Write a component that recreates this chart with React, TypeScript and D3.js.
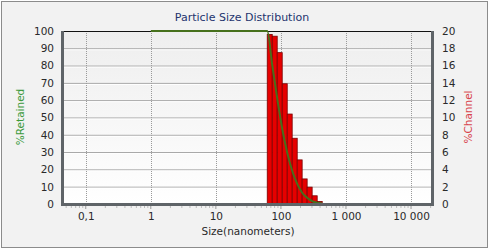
import React, { useEffect, useRef } from "react";
import * as d3 from "d3";

// channel bins (nm) and % per channel
const binEdges = [61.6, 73.5, 87.7, 104.7, 125, 149, 178, 212, 253, 302, 361, 431];
const channelPct = [19.6, 19.4, 17.5, 13.9, 10.4, 7.6, 5.1, 2.9, 1.95, 0.95, 0.3];

// cumulative % retained curve
const retainedSize = [1, 61.6, 73.5, 87.7, 104.7, 125, 149, 178, 212, 253, 302, 361, 431];
const retainedPct = [100, 100, 80.4, 61, 43.5, 29.6, 19.2, 11.6, 6.5, 3.6, 1.65, 0.7, 0.3];

const xTicks = [0.1, 1, 10, 100, 1000, 10000];
const xTickLabels = ["0,1", "1", "10", "100", "1 000", "10 000"];
const leftTicks = [0, 10, 20, 30, 40, 50, 60, 70, 80, 90, 100];
const rightTicks = [0, 2, 4, 6, 8, 10, 12, 14, 16, 18, 20];

const W = 489;
const H = 249;
const margin = { top: 31, right: 57, bottom: 45, left: 63 };
const font = "DejaVu Sans, Verdana, sans-serif";

export default function App() {
    const ref = useRef(null);

    useEffect(() => {
        const svg = d3.select(ref.current);
        svg.selectAll("*").remove();

        const iw = W - margin.left - margin.right;
        const ih = H - margin.top - margin.bottom;

        const x = d3.scaleLog().domain([0.0447, 21000]).range([0, iw]);
        const yL = d3.scaleLinear().domain([0, 100]).range([ih, 0]);
        const yR = d3.scaleLinear().domain([0, 20]).range([ih, 0]);

        const defs = svg.append("defs");
        const grad = defs.append("linearGradient")
            .attr("id", "plotbg").attr("x1", 0).attr("y1", 0).attr("x2", 0).attr("y2", 1);
        grad.append("stop").attr("offset", "0%").attr("stop-color", "#eeeeee");
        grad.append("stop").attr("offset", "100%").attr("stop-color", "#ffffff");

        // outer panel
        svg.append("rect").attr("x", 0).attr("y", 0).attr("width", W).attr("height", H).attr("fill", "#ffffff");
        svg.append("rect")
            .attr("x", 1.5).attr("y", 1.5).attr("width", W - 3).attr("height", H - 3)
            .attr("fill", "#f2f2f2").attr("stroke", "#8c8c8c").attr("stroke-width", 1);

        svg.append("text")
            .text("Particle Size Distribution")
            .attr("x", 242).attr("y", 21)
            .attr("text-anchor", "middle")
            .attr("font-family", font).attr("font-size", "11px")
            .attr("fill", "#24346e");

        const g = svg.append("g").attr("transform", `translate(${margin.left},${margin.top})`);

        g.append("rect").attr("width", iw).attr("height", ih).attr("fill", "url(#plotbg)");

        // horizontal grid
        g.selectAll(".hgrid").data(leftTicks.slice(1, -1)).enter().append("line")
            .attr("x1", 0).attr("x2", iw)
            .attr("y1", d => yL(d) + 0.5).attr("y2", d => yL(d) + 0.5)
            .attr("stroke", "#a0a0a0").attr("stroke-width", 1);
        g.selectAll(".hgrid2").data(leftTicks.slice(1, -1)).enter().append("line")
            .attr("x1", 0).attr("x2", iw)
            .attr("y1", d => yL(d) + 1.5).attr("y2", d => yL(d) + 1.5)
            .attr("stroke", "#ffffff").attr("stroke-width", 1);

        // vertical grid
        g.selectAll(".vgrid").data(xTicks).enter().append("line")
            .attr("x1", d => Math.round(x(d)) + 0.5).attr("x2", d => Math.round(x(d)) + 0.5)
            .attr("y1", 0).attr("y2", ih)
            .attr("stroke", "#9a9a9a").attr("stroke-dasharray", "1,1");

        // frame top
        g.append("line").attr("x1", 0).attr("x2", iw).attr("y1", 0.5).attr("y2", 0.5)
            .attr("stroke", "#111").attr("stroke-width", 1);

        // bars
        g.selectAll(".bar").data(channelPct).enter().append("rect")
            .attr("x", (d, i) => x(binEdges[i]))
            .attr("width", (d, i) => x(binEdges[i + 1]) - x(binEdges[i]))
            .attr("y", d => yR(d))
            .attr("height", d => ih - yR(d))
            .attr("fill", "#e60000")
            .attr("stroke", "#7a0000").attr("stroke-width", 0.8);

        // retained curve
        const pts = retainedSize.map((s, i) => [s, retainedPct[i]]);
        g.append("path")
            .datum(pts)
            .attr("d", d3.line().x(d => x(d[0])).y(d => yL(d[1])).curve(d3.curveMonotoneX))
            .attr("fill", "none")
            .attr("stroke", "#46701c").attr("stroke-width", 2);

        const xAxis = g.append("g").attr("transform", `translate(0,${ih})`)
            .call(d3.axisBottom(x).tickValues(xTicks).tickFormat((d, i) => xTickLabels[i]).tickSize(0).tickPadding(9));
        xAxis.select(".domain").remove();
        xAxis.selectAll("text").attr("font-family", font).attr("font-size", "10.5px").attr("fill", "#2a2a2a");

        // minor ticks
        const minors = [];
        [0.01, 0.1, 1, 10, 100, 1000, 10000].forEach(dec => {
            for (let k = 2; k <= 9; k++) minors.push(dec * k);
        });
        g.selectAll(".minor").data(minors.filter(v => x(v) > 0 && x(v) < iw)).enter().append("line")
            .attr("x1", d => x(d)).attr("x2", d => x(d))
            .attr("y1", ih + 1).attr("y2", ih + 4)
            .attr("stroke", "#bbbbbb");
        g.selectAll(".major").data(xTicks).enter().append("line")
            .attr("x1", d => x(d)).attr("x2", d => x(d))
            .attr("y1", ih + 1).attr("y2", ih + 5)
            .attr("stroke", "#999999");

        const lAxis = g.append("g")
            .call(d3.axisLeft(yL).tickValues(leftTicks).tickSize(0).tickPadding(9));
        lAxis.select(".domain").remove();
        lAxis.selectAll("text").attr("font-family", font).attr("font-size", "10.5px").attr("fill", "#2a2a2a");

        const rAxis = g.append("g").attr("transform", `translate(${iw},0)`)
            .call(d3.axisRight(yR).tickValues(rightTicks).tickSize(0).tickPadding(10));
        rAxis.select(".domain").remove();
        rAxis.selectAll("text").attr("font-family", font).attr("font-size", "10.5px").attr("fill", "#2a2a2a");

        // thick axis lines
        g.append("line").attr("x1", -0.5).attr("x2", -0.5).attr("y1", 0).attr("y2", ih + 1.5)
            .attr("stroke", "#5f6468").attr("stroke-width", 3);
        g.append("line").attr("x1", iw + 0.5).attr("x2", iw + 0.5).attr("y1", 0).attr("y2", ih + 1.5)
            .attr("stroke", "#5f6468").attr("stroke-width", 3);
        g.append("line").attr("x1", -2).attr("x2", iw + 2).attr("y1", ih + 0.5).attr("y2", ih + 0.5)
            .attr("stroke", "#5f6468").attr("stroke-width", 3);

        // axis titles
        svg.append("text")
            .text("Size(nanometers)")
            .attr("x", 248).attr("y", 235)
            .attr("text-anchor", "middle")
            .attr("font-family", font).attr("font-size", "10.5px").attr("fill", "#2a2a2a");

        svg.append("text")
            .text("%Retained")
            .attr("transform", "translate(24,117) rotate(-90)")
            .attr("text-anchor", "middle")
            .attr("font-family", font).attr("font-size", "10.5px").attr("fill", "#3c9a3c");

        svg.append("text")
            .text("%Channel")
            .attr("transform", "translate(472,117) rotate(-90)")
            .attr("text-anchor", "middle")
            .attr("font-family", font).attr("font-size", "10.5px").attr("fill", "#d8444c");
    }, []);

    return (
        <svg ref={ref} width={W} height={H} viewBox={`0 0 ${W} ${H}`}
            style={{ position: "absolute", left: 0, top: 0 }} />
    );
}
